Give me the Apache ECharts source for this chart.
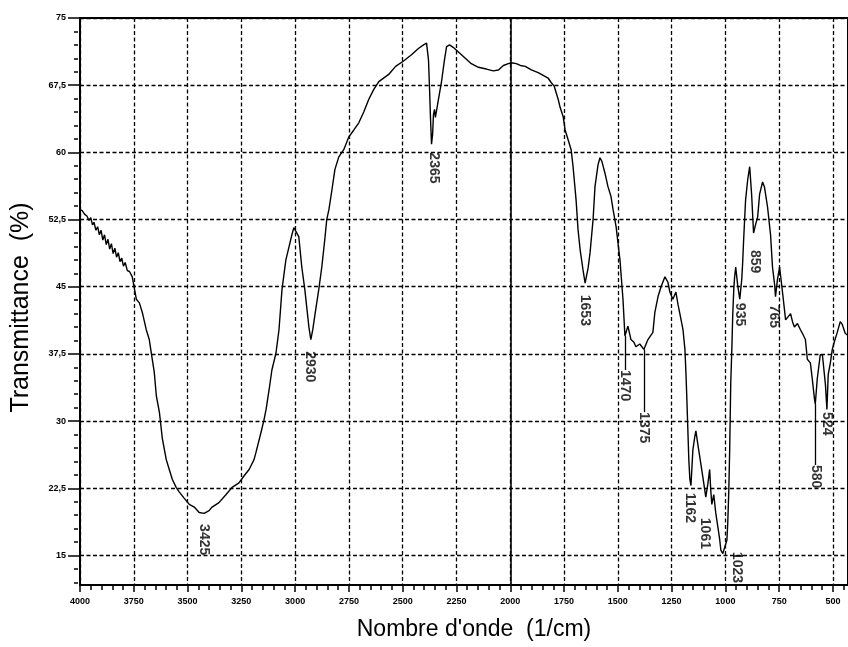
<!DOCTYPE html>
<html lang="fr">
<head>
<meta charset="UTF-8">
<title>Spectre IR</title>
<script src="https://cdn.jsdelivr.net/npm/echarts@6.0.0/dist/echarts.min.js"></script>
<style>html,body{margin:0;padding:0;background:#fff;}</style>
</head>
<body>
<div id="main" style="width:848px;height:647px;"></div>
<script>
// spectrum (wavenumber in 1/cm, transmittance in %)
const waveNumbers = [4000,3990,3979,3968,3958,3950,3942,3935,3926,3918,3910,3902,3894,3886,3878,3870,3862,3854,3846,3838,3830,3822,3814,3806,3798,3790,3780,3770,3757,3745,3738,3724,3710,3692,3678,3664,3655,3645,3631,3617,3599,3585,3571,3553,3539,3516,3492,3469,3446,3423,3400,3386,3354,3321,3293,3261,3237,3214,3191,3182,3159,3145,3135,3121,3108,3089,3075,3061,3043,3029,3015,3006,2997,2983,2969,2955,2945,2936,2927,2918,2904,2890,2876,2862,2853,2843,2829,2815,2797,2774,2751,2727,2704,2681,2658,2635,2611,2565,2533,2496,2459,2427,2403,2389,2380,2375,2371,2366,2361,2357,2352,2348,2343,2334,2320,2306,2296,2282,2264,2241,2218,2195,2181,2148,2111,2079,2055,2032,2009,1995,1972,1953,1930,1902,1870,1847,1824,1810,1796,1777,1768,1754,1745,1731,1717,1708,1694,1685,1675,1662,1652,1638,1629,1615,1606,1592,1583,1574,1560,1546,1532,1522,1508,1490,1476,1467,1453,1439,1425,1416,1398,1379,1360,1337,1328,1313,1299,1281,1267,1258,1244,1230,1220,1211,1197,1188,1183,1179,1174,1170,1165,1160,1156,1151,1142,1137,1128,1119,1105,1091,1082,1073,1068,1063,1054,1045,1035,1026,1021,1012,1003,993,989,984,980,975,970,966,961,957,952,943,933,924,920,915,906,896,887,878,869,860,850,841,827,818,804,790,781,771,767,758,748,734,720,711,697,688,679,665,651,642,628,619,605,596,586,582,573,559,549,540,535,528,522,512,503,494,480,466,457,443,432];
const transmittance = [53.6,53.5,53.1,52.9,52.4,52.7,51.9,52.2,51.3,51.7,50.8,51.3,50.2,50.8,49.7,50.3,49.2,49.8,48.7,49.3,48.3,48.8,47.8,48.2,47.3,47.7,46.8,46.7,46.1,44.5,43.6,43.2,42.1,40.2,39.1,36.9,35.5,32.8,31.0,28.0,25.7,24.6,23.5,22.6,22.1,21.4,20.7,20.4,19.8,19.7,20.0,20.4,20.9,21.8,22.6,23.1,23.9,24.6,25.7,26.5,28.7,30.1,31.3,33.5,35.7,37.6,40.2,44.7,48.0,49.4,50.8,51.6,51.6,50.6,47.2,44.7,42.5,40.5,39.1,40.2,42.5,44.7,47.2,50.3,52.5,53.6,55.8,58.1,59.5,60.3,61.7,62.5,63.3,64.5,65.9,67.0,67.9,68.7,69.6,70.2,70.9,71.6,72.0,72.2,70.3,67.0,64.0,60.9,62.0,64.2,64.8,63.9,64.6,65.9,67.8,70.3,71.8,72.0,71.7,71.2,70.7,70.2,69.9,69.5,69.3,69.1,69.2,69.7,69.9,70.0,69.9,69.7,69.6,69.2,68.9,68.6,68.3,67.8,67.4,65.9,65.0,64.0,62.5,61.4,60.3,58.4,54.7,51.4,49.1,46.9,45.4,47.1,48.8,52.5,56.2,58.6,59.4,59.0,57.7,56.2,55.1,53.6,51.7,48.0,43.6,39.5,40.6,39.1,38.8,38.3,38.6,38.0,39.1,39.9,42.1,43.9,45.0,46.1,45.5,44.4,43.6,44.4,43.0,41.9,40.2,38.0,35.2,32.4,28.7,25.7,23.5,22.8,24.6,26.8,28.3,28.9,27.4,26.0,23.8,21.5,22.9,24.6,22.3,20.7,21.8,19.8,18.2,16.7,15.6,15.2,15.3,16.7,18.6,22.3,26.8,34.3,38.0,41.7,44.7,46.1,47.2,45.2,43.6,45.8,47.5,50.3,54.7,57.0,58.4,55.3,51.0,51.9,52.8,55.3,56.7,56.1,53.9,50.8,47.2,45.2,43.9,45.8,47.2,44.3,41.3,41.5,42.0,41.1,40.5,40.9,40.2,39.8,39.1,36.9,36.5,34.7,32.5,31.9,34.7,37.4,37.4,37.2,34.1,31.3,35.2,36.5,38.0,38.8,39.9,41.1,40.8,39.8,39.6];

// axis tick labels
const xTickLabels = [4000,3750,3500,3250,3000,2750,2500,2250,2000,1750,1500,1250,1000,750,500];
const yTickLabels = [15,22.5,30,37.5,45,52.5,60,67.5,75];

// peak annotations: text, where the text starts (top end)
const peakNames = ['3425','2930','2365','1653','1470','1375','1162','1061','1023','935','859','765','580','524'];
const peakLabelX = [3425,2931,2357,1651,1467,1377,1165,1096,945,933,864,776,580,526];
const peakLabelY = [18.5,37.8,60.0,44.1,35.7,31.0,22.0,19.2,15.4,43.2,49.1,43.0,25.1,31.0];

// leader lines from the curve down to the text
const leaderX = [1467,1377,580];
const leaderFrom = [39.5,38.0,31.9];
const leaderTo = [35.7,31.0,25.1];

// minor ticks (every 50 1/cm, every 1.5 %)
const xMinorTicks = [];
for (let v = 450; v <= 4000; v += 50) xMinorTicks.push(v);
const yMinorTicks = [];
for (let v = 12; v <= 75; v += 1.5) yMinorTicks.push(+v.toFixed(1));

const chart = echarts.init(document.getElementById('main'));

const narrow = "'Liberation Sans Narrow', 'Liberation Sans', Arial, sans-serif";
const dashed = { color: '#000', width: 1.3, type: [4, 2.5] };
const xMin = 430, xMax = 4000, yMin = 11.7, yMax = 75;

const option = {
    animation: false,
    grid: { left: 80, right: -2, top: 18, bottom: 62, show: true, borderColor: '#000', borderWidth: 2 },
    xAxis: [
        {
            type: 'value', inverse: true, min: xMin, max: xMax, position: 'bottom',
            axisLine: { onZero: false, lineStyle: { color: '#000', width: 2 } },
            axisTick: { customValues: xTickLabels, length: 7, lineStyle: { color: '#000', width: 1.5 } },
            axisLabel: {
                customValues: xTickLabels, margin: 12, fontSize: 9, fontWeight: 'bold', color: '#000', fontFamily: narrow,
                formatter: v => String(v)
            },
            splitLine: { show: true, lineStyle: dashed },
            name: "Nombre d'onde  (1/cm)", nameLocation: 'middle', nameGap: 33,
            nameTextStyle: { fontSize: 23, color: '#000', fontFamily: narrow, padding: [0, 0, 0, 20] }
        },
        {
            type: 'value', inverse: true, min: xMin, max: xMax, position: 'top', offset: -567,
            axisLine: { show: false },
            axisTick: { inside: true, customValues: xMinorTicks, length: 5, lineStyle: { color: '#000', width: 1.5 } },
            axisLabel: { show: false },
            splitLine: { show: false }
        }
    ],
    yAxis: [
        {
            type: 'value', min: yMin, max: yMax, position: 'left',
            axisLine: { show: true, onZero: false, lineStyle: { color: '#000', width: 2 } },
            axisTick: { customValues: yTickLabels, length: 12, lineStyle: { color: '#000', width: 1.5 } },
            axisLabel: {
                customValues: yTickLabels, margin: 14, fontSize: 9, fontWeight: 'bold', color: '#000', fontFamily: narrow,
                formatter: v => String(v).replace('.', ',')
            },
            splitLine: { show: true, lineStyle: dashed },
            name: 'Transmittance  (%)', nameLocation: 'middle', nameRotate: 90, nameGap: 46,
            nameTextStyle: { fontSize: 25, color: '#000', fontFamily: narrow, padding: [0, 12, 0, 0] }
        },
        {
            type: 'value', min: yMin, max: yMax, position: 'right', offset: -770,
            axisLine: { show: false },
            axisTick: { inside: true, customValues: yMinorTicks, length: 4, lineStyle: { color: '#000', width: 1.5 } },
            axisLabel: { show: false },
            splitLine: { show: false }
        }
    ],
    series: [
        {
            name: 'spectre', type: 'line', xAxisIndex: 0, yAxisIndex: 0,
            data: waveNumbers.map((w, i) => [w, transmittance[i]]),
            showSymbol: false, symbol: 'none',
            lineStyle: { color: '#000', width: 1.4 },
            markLine: {
                silent: true, symbol: 'none', label: { show: false },
                lineStyle: { color: '#000', width: 1.6, type: 'solid' },
                data: [{ xAxis: 2000 }]
            }
        },
        {
            name: 'pics', type: 'scatter', xAxisIndex: 0, yAxisIndex: 0, symbolSize: 0,
            data: peakNames.map((n, i) => ({ name: n, value: [peakLabelX[i], peakLabelY[i]] })),
            label: {
                show: true, formatter: '{b}', position: 'inside', rotate: -90,
                align: 'left', verticalAlign: 'middle',
                fontSize: 14, fontWeight: 'bold', color: '#000', fontFamily: narrow
            },
            markLine: {
                silent: true, symbol: 'none', label: { show: false },
                lineStyle: { color: '#000', width: 1.3, type: 'solid' },
                data: leaderX.map((x, i) => [{ coord: [x, leaderFrom[i]] }, { coord: [x, leaderTo[i]] }])
            }
        }
    ]
};

chart.setOption(option);
</script>
</body>
</html>
